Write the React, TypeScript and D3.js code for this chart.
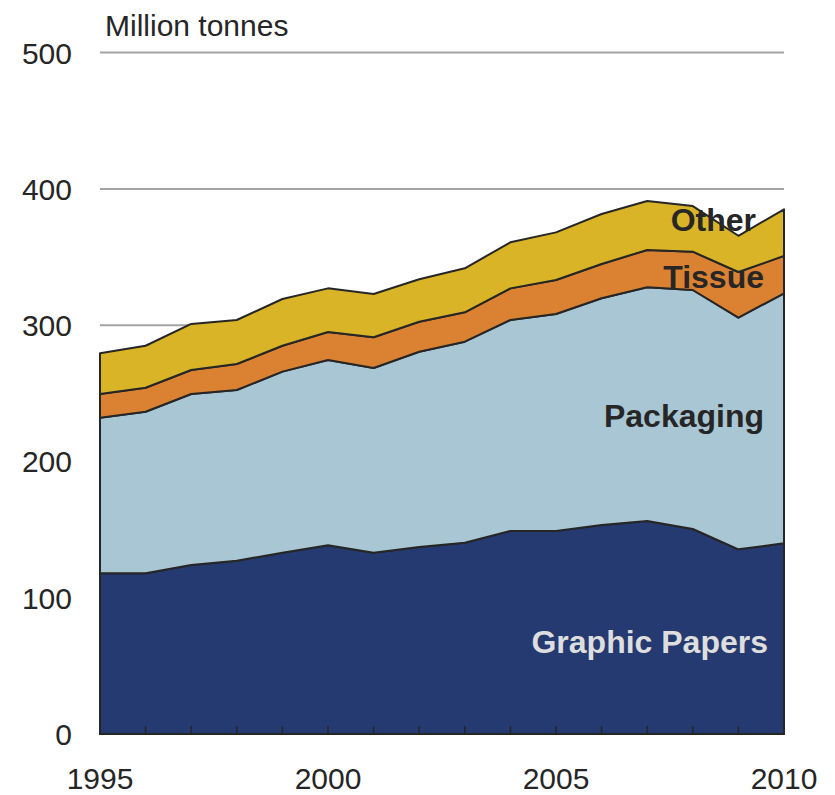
import React from "react";
import * as d3 from "d3";

const years = [1995, 1996, 1997, 1998, 1999, 2000, 2001, 2002, 2003, 2004, 2005, 2006, 2007, 2008, 2009, 2010];
const graphicPapers = [117.9, 117.9, 124.0, 127.2, 133.0, 138.5, 133.0, 137.2, 140.4, 149.0, 149.0, 153.4, 156.3, 150.4, 135.5, 139.9];
const packaging = [114.2, 118.6, 125.5, 125.2, 132.9, 135.9, 135.6, 143.3, 147.5, 154.8, 159.2, 166.3, 171.5, 175.4, 170.0, 183.5];
const tissue = [17.4, 17.6, 17.6, 19.1, 19.0, 20.6, 22.5, 22.0, 21.5, 23.2, 24.9, 25.2, 27.4, 28.1, 33.5, 27.4];
const other = [29.9, 30.8, 33.8, 32.3, 34.3, 32.0, 31.8, 31.2, 32.3, 33.8, 35.0, 36.7, 35.9, 33.5, 26.6, 34.2];

const seriesKeys = ["graphic", "packaging", "tissue", "other"];
const seriesColors = ["#253a71", "#a9c6d5", "#da8232", "#d8b426"];
const yTicks = [0, 100, 200, 300, 400, 500];
const xTickLabels = [1995, 2000, 2005, 2010];
const unitLabel = "Million tonnes";

export default function App() {
  const W = 835, H = 795;
  const x = d3.scaleLinear().domain([1995, 2010]).range([100, 784]);
  const y = d3.scaleLinear().domain([0, 500]).range([734, 52.6]);

  const rows = years.map((yr, i) => ({
    year: yr,
    graphic: graphicPapers[i],
    packaging: packaging[i],
    tissue: tissue[i],
    other: other[i],
  }));
  const stacked = d3.stack<any>().keys(seriesKeys)(rows);
  const area = d3
    .area<any>()
    .x((d) => x(d.data.year))
    .y0((d) => y(d[0]))
    .y1((d) => y(d[1]));

  const font = "'Liberation Sans', Arial, Helvetica, sans-serif";

  return (
    <svg width={W} height={H} style={{ position: "absolute", left: 0, top: 0, background: "#fff" }}>
      {yTicks.filter((t) => t > 0).map((t) => (
        <line key={t} x1={x(1995)} x2={x(2010)} y1={y(t)} y2={y(t)} stroke="#a3a3a3" strokeWidth={2} />
      ))}
      {stacked.map((s, i) => (
        <path key={s.key} d={area(s) || ""} fill={seriesColors[i]} stroke="#262626" strokeWidth={2} strokeLinejoin="round" />
      ))}
      {years.slice(1, -1).map((yr) => (
        <line key={yr} x1={x(yr)} x2={x(yr)} y1={y(0)} y2={y(0) - 8} stroke="#262626" strokeWidth={1.5} />
      ))}
      <line x1={x(1995) - 1} x2={x(2010) + 1} y1={y(0)} y2={y(0)} stroke="#262626" strokeWidth={2} />
      {yTicks.map((t) => (
        <text key={t} x={72} y={y(t) + 11} textAnchor="end" fontFamily={font} fontSize={30} fill="#262626">
          {t}
        </text>
      ))}
      {xTickLabels.map((t) => (
        <text key={t} x={x(t)} y={789} textAnchor="middle" fontFamily={font} fontSize={30} fill="#262626">
          {t}
        </text>
      ))}
      <text x={105} y={36} fontFamily={font} fontSize={30} fill="#262626">
        {unitLabel}
      </text>
      <text x={756} y={231} textAnchor="end" fontFamily={font} fontSize={32} fontWeight="bold" fill="#262626">
        Other
      </text>
      <text x={764} y={288} textAnchor="end" fontFamily={font} fontSize={32} fontWeight="bold" fill="#262626">
        Tissue
      </text>
      <text x={764} y={427} textAnchor="end" fontFamily={font} fontSize={32} fontWeight="bold" fill="#262626">
        Packaging
      </text>
      <text x={768} y={653} textAnchor="end" fontFamily={font} fontSize={32} fontWeight="bold" fill="#dedede">
        Graphic Papers
      </text>
    </svg>
  );
}
